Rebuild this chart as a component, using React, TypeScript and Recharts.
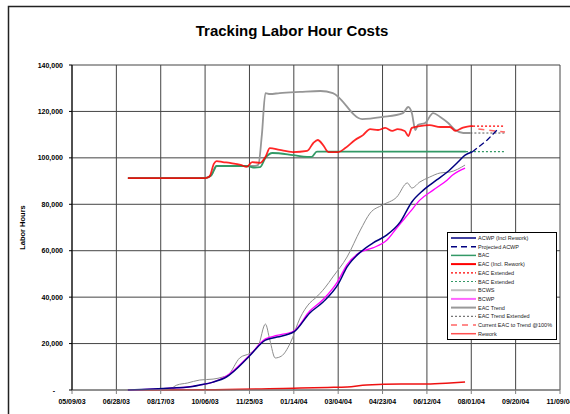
import React from 'react';
import { LineChart, Line, XAxis, YAxis, CartesianGrid } from 'recharts';

// days counted from 05/09/03
const tickDays = [0, 50, 100, 150, 200, 250, 300, 350, 400, 450, 500, 550];
const tickLabels = ['05/09/03', '06/28/03', '08/17/03', '10/06/03', '11/25/03', '01/14/04', '03/04/04', '04/23/04', '06/12/04', '08/01/04', '09/20/04', '11/09/04'];
const hourTicks = [0, 20000, 40000, 60000, 80000, 100000, 120000, 140000];

const eacDays = [63, 150, 155, 160, 163, 170, 178, 190, 197, 203, 212, 218, 223, 234, 249, 265, 272, 277, 283, 289, 300, 308, 319, 328, 336, 345, 353, 361, 367, 375, 379, 383, 392, 403, 415, 426, 432, 440, 449, 452];
const eacHours = [91300, 91300, 92000, 97500, 98600, 98200, 97800, 97000, 96100, 98200, 97800, 100400, 104200, 103400, 102500, 103000, 106400, 107700, 105500, 102500, 102500, 104200, 107700, 109800, 112400, 112000, 112900, 111600, 112400, 111600, 109400, 112900, 113700, 114100, 113300, 113300, 111600, 112900, 113700, 113700];

const eacExtDays = [452, 488];
const eacExtHours = [113700, 113700];

const bacDays = [63, 150, 157, 163, 197, 206, 212, 218, 226, 249, 265, 270, 276, 444];
const bacHours = [91300, 91300, 92500, 96500, 96500, 95800, 96000, 100000, 102100, 101200, 100400, 100400, 102700, 102700];

const bacExtDays = [444, 488];
const bacExtHours = [102700, 102700];

const trendDays = [63, 150, 157, 163, 206, 210, 214, 218, 223, 234, 257, 280, 294, 327, 350, 373, 379, 383, 387, 390, 398, 407, 415, 424, 432, 441, 449];
const trendHours = [91300, 91300, 92500, 96500, 96500, 97000, 110000, 127900, 127500, 127900, 128400, 128800, 127900, 116700, 117600, 119300, 121900, 119300, 112000, 114200, 115000, 119300, 117600, 115000, 112000, 110700, 110700];

const trendExtDays = [449, 488];
const trendExtHours = [110700, 110700];

const currentDays = [458, 488];
const currentHours = [112400, 111100];

const bcwsDays = [63, 110, 118, 130, 144, 159, 170, 176, 189, 201, 210, 218, 223, 229, 236, 246, 257, 268, 274, 285, 294, 310, 325, 336, 350, 366, 378, 383, 392, 403, 415, 426, 443];
const bcwsHours = [0, 500, 2100, 3000, 4300, 4700, 5600, 6500, 13800, 15900, 19000, 28400, 21500, 13800, 14600, 20200, 31000, 37500, 39500, 44000, 48700, 57300, 68900, 76200, 79700, 83100, 89200, 87000, 89600, 91700, 93500, 93900, 96900];

const acwpDays = [63, 112, 131, 144, 159, 174, 199, 218, 231, 250, 268, 283, 300, 310, 325, 339, 355, 370, 383, 396, 411, 423, 435, 443, 451];
const acwpHours = [0, 860, 1300, 2150, 3400, 5600, 14200, 21500, 22800, 25000, 33200, 37900, 45600, 53000, 59400, 63300, 66800, 72400, 81000, 86100, 90500, 93900, 98200, 101200, 102500];

const projDays = [451, 468, 480];
const projHours = [102500, 107700, 112400];

const bcwpDays = [63, 112, 131, 144, 159, 174, 199, 218, 231, 250, 268, 283, 299, 310, 325, 339, 355, 366, 381, 392, 407, 423, 429, 443];
const bcwpHours = [0, 800, 1300, 2100, 3400, 6000, 14500, 22000, 23500, 25400, 34000, 39000, 46500, 54000, 59400, 61200, 64600, 69800, 76700, 81800, 86100, 90500, 92600, 95600];

const reworkDays = [63, 150, 250, 288, 310, 332, 371, 400, 426, 443];
const reworkHours = [0, 100, 800, 1100, 1300, 2200, 2600, 2600, 3000, 3400];

const zip = (days: number[], hours: number[]) => days.map((d, i) => ({ d, v: hours[i] }));

const FONT = 'Liberation Sans, Arial, sans-serif';

const legendItems = [
  { name: 'ACWP (Incl Rework)', color: '#000080', width: 1.5, dash: undefined },
  { name: 'Projected ACWP', color: '#000080', width: 1.5, dash: '6 4' },
  { name: 'BAC', color: '#339966', width: 1.5, dash: undefined },
  { name: 'EAC (Incl. Rework)', color: '#ff0000', width: 2, dash: undefined },
  { name: 'EAC Extended', color: '#ff0000', width: 1.2, dash: '2 2' },
  { name: 'BAC Extended', color: '#339966', width: 1.2, dash: '2 2' },
  { name: 'BCWS', color: '#c0c0c0', width: 2, dash: undefined },
  { name: 'BCWP', color: '#ff66ff', width: 2, dash: undefined },
  { name: 'EAC Trend', color: '#999999', width: 2, dash: undefined },
  { name: 'EAC Trend Extended', color: '#555555', width: 1, dash: '2 2' },
  { name: 'Current EAC to Trend @100%', color: '#ff6666', width: 1.5, dash: '6 5' },
  { name: 'Rework', color: '#ff5050', width: 1.5, dash: undefined },
];

const YTick = ({ x, y, payload }: any) => (
  <text
    x={payload.value === 0 ? x - 8 : x}
    y={y}
    dy={2.5}
    textAnchor="end"
    fontSize={7}
    fontWeight="bold"
    fontFamily={FONT}
    fill="#000"
  >
    {payload.value === 0 ? '-' : payload.value.toLocaleString('en-US')}
  </text>
);

const YLabel = ({ viewBox }: any) => {
  const x = viewBox.x + 13;
  const y = viewBox.y + viewBox.height / 2;
  return (
    <text x={x} y={y} transform={`rotate(-90 ${x} ${y})`} textAnchor="middle" fontSize={7.5} fontWeight="bold" fontFamily={FONT} fill="#000">
      Labor Hours
    </text>
  );
};

const Legendbox = () => (
  <div style={{ position: 'absolute', left: 447, top: 232, width: 108, height: 106, border: '1px solid #000', background: '#fff' }}>
    <svg width={108} height={106}>
      {legendItems.map((it, i) => {
        const y = 5 + i * 8.7;
        return (
          <g key={it.name}>
            <line x1={3} x2={28} y1={y} y2={y} stroke={it.color} strokeWidth={it.width} strokeDasharray={it.dash} />
            <text x={30} y={y + 2} fontSize={5.5} fontFamily={FONT} fill="#222">{it.name}</text>
          </g>
        );
      })}
    </svg>
  </div>
);

export default function App() {
  return (
    <div style={{ position: 'absolute', left: 0, top: 0, width: 570, height: 414, background: '#fff', overflow: 'hidden' }}>
      <LineChart width={570} height={414} margin={{ top: 65, right: 10, left: 12, bottom: 4 }}>
        <CartesianGrid stroke="#444" strokeWidth={1} />
        <XAxis
          dataKey="d"
          type="number"
          domain={[0, 550]}
          ticks={tickDays}
          allowDataOverflow
          height={20}
          tickFormatter={(v: number) => tickLabels[tickDays.indexOf(v)]}
          tick={{ fontSize: 7, fontWeight: 'bold', fill: '#000', fontFamily: FONT }}
          tickSize={4}
          tickMargin={5}
          stroke="#808080"
          interval={0}
        />
        <YAxis
          type="number"
          domain={[0, 140000]}
          ticks={hourTicks}
          width={60}
          tick={<YTick />}
          tickSize={3}
          tickMargin={6}
          stroke="#000"
          interval={0}
          label={<YLabel />}
        />
        <Line data={zip(reworkDays, reworkHours)} dataKey="v" stroke="#ee1111" strokeWidth={1.5} dot={false} type="monotone" isAnimationActive={false} />
        <Line data={zip(bcwsDays, bcwsHours)} dataKey="v" stroke="#8c8c8c" strokeWidth={1} dot={false} type="monotone" isAnimationActive={false} />
        <Line data={zip(trendDays, trendHours)} dataKey="v" stroke="#969696" strokeWidth={1.8} dot={false} type="monotone" isAnimationActive={false} />
        <Line data={zip(trendExtDays, trendExtHours)} dataKey="v" stroke="#555" strokeWidth={1} strokeDasharray="2 2" dot={false} isAnimationActive={false} />
        <Line data={zip(bacDays, bacHours)} dataKey="v" stroke="#339966" strokeWidth={1.8} dot={false} type="monotone" isAnimationActive={false} />
        <Line data={zip(bacExtDays, bacExtHours)} dataKey="v" stroke="#339966" strokeWidth={1.2} strokeDasharray="2 2" dot={false} isAnimationActive={false} />
        <Line data={zip(eacDays, eacHours)} dataKey="v" stroke="#ff0000" strokeWidth={1.8} strokeOpacity={0.85} dot={false} type="monotone" isAnimationActive={false} />
        <Line data={zip(eacExtDays, eacExtHours)} dataKey="v" stroke="#ff0000" strokeWidth={1.2} strokeDasharray="2 2" dot={false} isAnimationActive={false} />
        <Line data={zip(currentDays, currentHours)} dataKey="v" stroke="#ff6666" strokeWidth={1.5} strokeDasharray="6 5" dot={false} isAnimationActive={false} />
        <Line data={zip(bcwpDays, bcwpHours)} dataKey="v" stroke="#ff00ff" strokeWidth={1.3} dot={false} type="monotone" isAnimationActive={false} />
        <Line data={zip(acwpDays, acwpHours)} dataKey="v" stroke="#000080" strokeWidth={1.5} dot={false} type="monotone" isAnimationActive={false} />
        <Line data={zip(projDays, projHours)} dataKey="v" stroke="#000080" strokeWidth={1.3} strokeDasharray="6 3" dot={false} isAnimationActive={false} />
      </LineChart>
      <svg width={570} height={414} style={{ position: 'absolute', left: 0, top: 0, pointerEvents: 'none' }}>
        <rect x={8.5} y={6.5} width={620} height={500} fill="none" stroke="#222" strokeWidth={1.5} />
        <text x={292} y={36} textAnchor="middle" fontSize={15} fontWeight="bold" fontFamily={FONT} fill="#000">
          Tracking Labor Hour Costs
        </text>
      </svg>
      <Legendbox />
    </div>
  );
}
